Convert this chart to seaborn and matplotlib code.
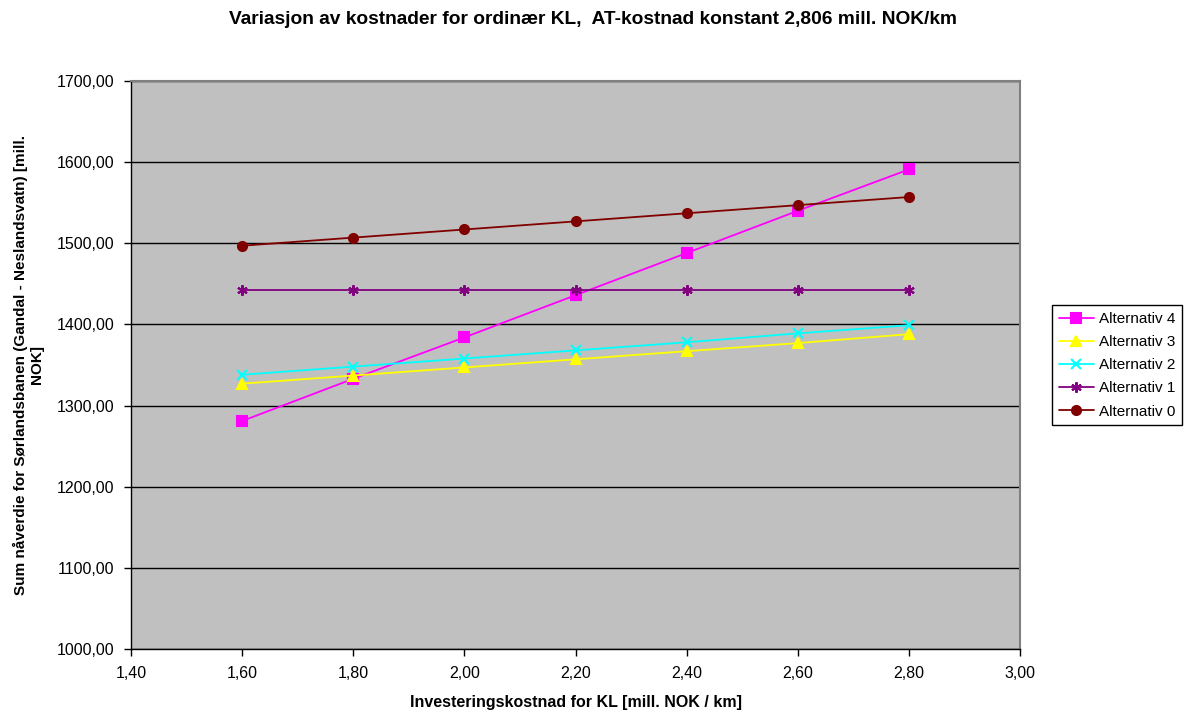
import matplotlib
matplotlib.use("Agg")
import matplotlib.pyplot as plt
import seaborn as sns
import pandas as pd

x_values = [1.60, 1.80, 2.00, 2.20, 2.40, 2.60, 2.80]
alt4 = [1281, 1333, 1384, 1436, 1488, 1540, 1591]
alt3 = [1327, 1337, 1347, 1357, 1367, 1377, 1388]
alt2 = [1338, 1348, 1358, 1368, 1378, 1389, 1399]
alt1 = [1443, 1443, 1443, 1443, 1443, 1443, 1443]
alt0 = [1497, 1507, 1517, 1527, 1537, 1547, 1557]

series_names = ["Alternativ 4", "Alternativ 3", "Alternativ 2", "Alternativ 1", "Alternativ 0"]
series_values = [alt4, alt3, alt2, alt1, alt0]

x_ticks = [1.40, 1.60, 1.80, 2.00, 2.20, 2.40, 2.60, 2.80, 3.00]
x_tick_labels = ["1,40", "1,60", "1,80", "2,00", "2,20", "2,40", "2,60", "2,80", "3,00"]
y_ticks = [1000, 1100, 1200, 1300, 1400, 1500, 1600, 1700]
y_tick_labels = ["1000,00", "1100,00", "1200,00", "1300,00", "1400,00", "1500,00", "1600,00", "1700,00"]

title = "Variasjon av kostnader for ordinær KL,  AT-kostnad konstant 2,806 mill. NOK/km"
x_label = "Investeringskostnad for KL [mill. NOK / km]"
y_label = "Sum nåverdie for Sørlandsbanen (Gandal - Neslandsvatn) [mill.\nNOK]"

colors = {"Alternativ 4": "#FF00FF", "Alternativ 3": "#FFFF00", "Alternativ 2": "#00FFFF",
          "Alternativ 1": "#800080", "Alternativ 0": "#800000"}
markers = {"Alternativ 4": "s", "Alternativ 3": "^", "Alternativ 2": "x",
           "Alternativ 1": (6, 2, 0), "Alternativ 0": "o"}
msizes = {"Alternativ 4": 6.5, "Alternativ 3": 7, "Alternativ 2": 7,
          "Alternativ 1": 7.5, "Alternativ 0": 6.5}

sns.set_theme(style="white")
plt.rcParams["font.family"] = ["Liberation Sans", "DejaVu Sans"]
plt.rcParams["text.color"] = "black"
plt.rcParams["axes.labelcolor"] = "black"
plt.rcParams["xtick.color"] = "black"
plt.rcParams["ytick.color"] = "black"

fig = plt.figure(figsize=(11.86, 7.11), dpi=100)
ax = fig.add_axes([131/1186, 1-649/711, (1020-131)/1186, (649-81)/711])
ax.set_facecolor("#C0C0C0")

for name, vals in zip(series_names, series_values):
    d = pd.DataFrame({"x": x_values, "y": vals})
    c = colors[name]
    sns.lineplot(data=d, x="x", y="y", color=c, marker=markers[name], markersize=msizes[name],
                 markeredgewidth=1.5, markeredgecolor=c, markerfacecolor=c,
                 linewidth=1.3, label=name, ax=ax)

ax.set_xlim(1.40, 3.00)
ax.set_ylim(1000, 1700)
ax.set_xticks(x_ticks)
ax.set_xticklabels(x_tick_labels, fontsize=11.5)
ax.set_yticks(y_ticks)
ax.set_yticklabels(y_tick_labels, fontsize=11.5)
ax.yaxis.grid(True, color="black", linewidth=1)
ax.set_axisbelow(True)
ax.tick_params(axis="both", direction="out", length=5, width=1, color="black", bottom=True, left=True, pad=7)
for side in ["left", "bottom"]:
    ax.spines[side].set_color("black")
    ax.spines[side].set_linewidth(1)
for side in ["top", "right"]:
    ax.spines[side].set_color("#808080")
    ax.spines[side].set_linewidth(1.5)

ax.set_xlabel(x_label, fontsize=11.5, fontweight="bold", labelpad=10)
ax.set_ylabel(y_label, fontsize=11, fontweight="bold", labelpad=9)
fig.text(0.5, 1-20/711, title, ha="center", va="center", fontsize=13.8, fontweight="bold")

handles, labels = ax.get_legend_handles_labels()
ax.legend(handles, labels, loc="upper left", bbox_to_anchor=(1052/1186, 1-305/711),
          bbox_transform=fig.transFigure, fontsize=11, frameon=True, fancybox=False,
          edgecolor="black", framealpha=1, borderpad=0.45, labelspacing=0.6,
          handlelength=2.3, handletextpad=0.3, borderaxespad=0)

fig.savefig("out.png", dpi=100)
